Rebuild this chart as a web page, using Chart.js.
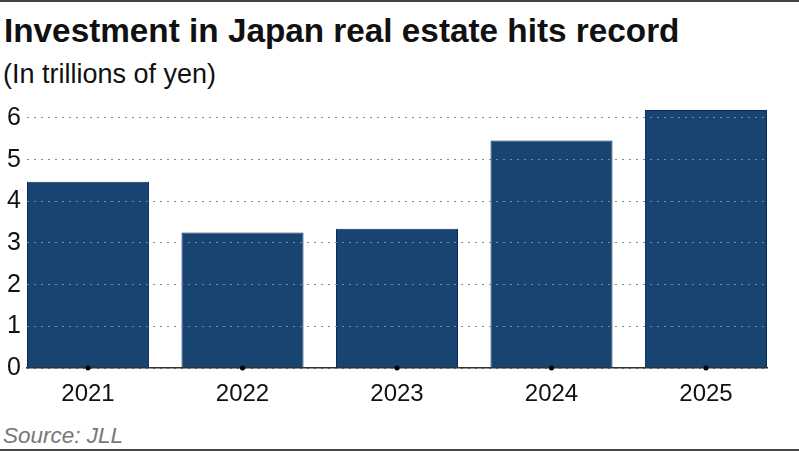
<!DOCTYPE html>
<html>
<head>
<meta charset="utf-8">
<script src="https://cdn.jsdelivr.net/npm/chart.js@4/dist/chart.umd.min.js"></script>
<style>
  html, body { margin: 0; padding: 0; background: #fff; }
  body { width: 799px; height: 451px; position: relative; overflow: hidden;
         font-family: "Liberation Sans", Arial, sans-serif; }
  .rule { position: absolute; left: 0; width: 799px; height: 2px; background: #444; }
  #title { position: absolute; left: 4px; top: 12px; font-size: 33.3px; font-weight: bold; color: #111; white-space: nowrap; }
  #subtitle { position: absolute; left: 3px; top: 59px; font-size: 27px; color: #111; white-space: nowrap; }
  #source { position: absolute; left: 3px; top: 423px; font-size: 22.5px; font-style: italic; color: #777; white-space: nowrap; }
  #wrap { position: absolute; left: 0; top: 100px; width: 799px; height: 315px; }
</style>
</head>
<body>
<div class="rule" style="top:0"></div>
<div id="title">Investment in Japan real estate hits record</div>
<div id="subtitle">(In trillions of yen)</div>
<div id="wrap"><canvas id="chart"></canvas></div>
<div id="source">Source: JLL</div>
<div class="rule" style="top:449px"></div>
<script>
// values, trillions of yen
const years = ['2021', '2022', '2023', '2024', '2025'];
const investment = [4.47, 3.25, 3.34, 5.46, 6.19];
const yTicks = [0, 1, 2, 3, 4, 5, 6];

const BAR = '#174470';

// small black dot under each year on the zero line
const tickDots = {
  id: 'tickDots',
  afterDraw(chart) {
    const { ctx, scales: { x, y } } = chart;
    ctx.save();
    ctx.fillStyle = '#000';
    years.forEach((_, i) => {
      ctx.beginPath();
      ctx.arc(x.getPixelForValue(i), y.getPixelForValue(0), 2.5, 0, Math.PI * 2);
      ctx.fill();
    });
    ctx.restore();
  }
};

new Chart(document.getElementById('chart'), {
  type: 'bar',
  data: {
    datasets: [{
      data: investment.map((v, i) => ({ x: i, y: v })),
      backgroundColor: BAR,
      borderColor: '#0b2a5c',
      borderWidth: 1,
      barPercentage: 0.79,
      categoryPercentage: 1
    }]
  },
  options: {
    responsive: true,
    maintainAspectRatio: false,
    animation: false,
    layout: { padding: { top: 5.5, right: 32, left: 0, bottom: 0 } },
    plugins: { legend: { display: false }, tooltip: { enabled: false } },
    scales: {
      x: {
        type: 'linear',
        offset: false,
        min: -0.395,
        max: 4.395,
        afterBuildTicks: s => { s.ticks = years.map((_, i) => ({ value: i })); },
        afterFit: s => { s.height = 47; s.paddingLeft = 0; s.paddingRight = 0; },
        grid: { display: false, drawTicks: false, offset: false },
        border: { display: true, color: '#333', width: 1.5, z: 2 },
        ticks: {
          padding: 12,
          color: '#111',
          font: { family: '"Liberation Sans", Arial, sans-serif', size: 24 },
          callback: v => years[v]
        }
      },
      y: {
        min: 0,
        max: 6.3,
        afterBuildTicks: s => { s.ticks = yTicks.map(v => ({ value: v })); },
        afterFit: s => { s.width = 27; s.paddingTop = 0; s.paddingBottom = 0; },
        grid: { color: '#888', lineWidth: 1, drawTicks: false, z: 1 },
        border: { display: false, dash: [2, 5] },
        ticks: {
          padding: 6,
          color: '#111',
          font: { family: '"Liberation Sans", Arial, sans-serif', size: 25 }
        }
      }
    }
  },
  plugins: [tickDots]
});
</script>
</body>
</html>
